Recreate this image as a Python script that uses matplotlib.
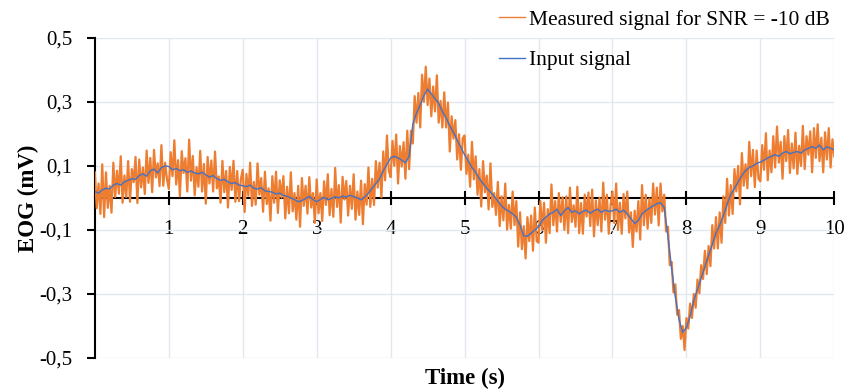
import numpy as np
import matplotlib.pyplot as plt
from matplotlib.ticker import FuncFormatter

# input EOG signal, sampled every 50 ms (mV)
input_signal = [
    0.020, 0.015, 0.025, 0.030, 0.028, 0.040, 0.045, 0.040, 0.050, 0.055,
    0.060, 0.058, 0.070, 0.075, 0.068, 0.085, 0.090, 0.078, 0.095, 0.100,
    0.098, 0.088, 0.092, 0.085, 0.088, 0.080, 0.084, 0.078, 0.075, 0.080,
    0.072, 0.065, 0.070, 0.060, 0.055, 0.058, 0.050, 0.045, 0.048, 0.040,
    0.038, 0.035, 0.040, 0.030, 0.028, 0.032, 0.022, 0.020, 0.018, 0.012,
    0.015, 0.008, 0.005, 0.000, -0.005, -0.012, -0.008, -0.002, 0.005, -0.005,
    -0.012, -0.005, 0.002, -0.006, -0.002, 0.004, 0.000, 0.006, 0.003, 0.008,
    0.004, 0.000, -0.006, 0.003, 0.015, 0.030, 0.045, 0.060, 0.085, 0.105,
    0.125, 0.130, 0.125, 0.118, 0.110, 0.130, 0.230, 0.265, 0.290, 0.320,
    0.340, 0.325, 0.310, 0.295, 0.270, 0.250, 0.225, 0.205, 0.180, 0.158,
    0.135, 0.115, 0.095, 0.080, 0.060, 0.045, 0.030, 0.018, 0.005, -0.010,
    -0.025, -0.035, -0.042, -0.050, -0.060, -0.085, -0.118, -0.120, -0.110, -0.100,
    -0.090, -0.070, -0.060, -0.050, -0.045, -0.035, -0.055, -0.040, -0.030, -0.045,
    -0.040, -0.050, -0.042, -0.038, -0.048, -0.040, -0.035, -0.045, -0.038, -0.042,
    -0.040, -0.035, -0.045, -0.038, -0.050, -0.065, -0.080, -0.070, -0.050, -0.040,
    -0.032, -0.025, -0.018, -0.015, -0.030, -0.120, -0.220, -0.310, -0.380, -0.420,
    -0.405, -0.370, -0.320, -0.285, -0.250, -0.215, -0.180, -0.145, -0.110, -0.085,
    -0.055, -0.020, 0.010, 0.030, 0.050, 0.070, 0.085, 0.095, 0.100, 0.108,
    0.112, 0.118, 0.125, 0.130, 0.135, 0.130, 0.140, 0.145, 0.138, 0.142,
    0.145, 0.140, 0.150, 0.155, 0.160, 0.155, 0.165, 0.150, 0.160, 0.155,
    0.150,
]

# noisy measurement, sampled every 25 ms (mV)
measured_signal = [
    0.080, -0.032, 0.045, -0.050, 0.105, -0.060, 0.080, -0.031, 0.038, -0.046,
    0.110, 0.003, 0.085, 0.013, 0.130, -0.015, 0.070, 0.003, 0.115, -0.012,
    0.090, 0.049, 0.128, -0.016, 0.120, 0.033, 0.095, 0.012, 0.148, 0.047,
    0.125, 0.018, 0.150, 0.064, 0.108, 0.037, 0.165, 0.038, 0.110, 0.059,
    0.028, 0.143, 0.068, 0.180, 0.042, 0.118, 0.005, 0.146, 0.078, 0.124,
    0.020, 0.182, 0.054, 0.131, 0.008, 0.096, 0.035, 0.147, 0.020, 0.106,
    -0.018, 0.128, 0.045, 0.117, 0.020, 0.145, 0.030, 0.067, -0.015, 0.116,
    0.018, 0.084, -0.030, 0.097, 0.025, 0.116, -0.012, 0.084, -0.010, 0.059,
    0.088, -0.044, 0.075, 0.007, 0.110, -0.025, 0.050, -0.021, 0.108, 0.010,
    0.062, -0.043, 0.082, -0.019, 0.030, -0.071, 0.068, -0.015, 0.082, -0.047,
    0.055, 0.001, 0.068, -0.064, 0.035, -0.048, 0.080, -0.042, 0.015, -0.068,
    0.038, -0.090, 0.062, -0.025, 0.038, -0.049, 0.065, -0.030, 0.015, -0.078,
    0.058, -0.048, 0.015, -0.072, 0.052, -0.022, 0.074, -0.054, 0.028, -0.059,
    0.094, -0.028, 0.040, -0.077, 0.066, -0.005, 0.053, -0.055, 0.038, -0.034,
    0.074, -0.068, 0.020, -0.053, 0.054, -0.082, 0.043, -0.021, 0.095, -0.028,
    0.060, -0.022, 0.115, 0.032, 0.110, 0.002, 0.145, 0.055, 0.195, 0.085,
    0.065, 0.178, 0.100, 0.198, 0.045, 0.162, 0.098, 0.174, 0.060, 0.210,
    0.090, 0.210, 0.170, 0.318, 0.235, 0.328, 0.220, 0.385, 0.300, 0.410,
    0.290, 0.373, 0.255, 0.348, 0.270, 0.383, 0.235, 0.303, 0.220, 0.330,
    0.220, 0.298, 0.145, 0.255, 0.185, 0.243, 0.120, 0.199, 0.088, 0.187,
    0.195, 0.075, 0.135, 0.035, 0.175, 0.058, 0.130, 0.010, 0.090, -0.027,
    0.115, 0.018, 0.070, -0.036, 0.108, -0.028, 0.015, -0.053, 0.050, -0.088,
    0.005, -0.070, 0.045, -0.099, -0.022, -0.096, 0.020, -0.085, -0.010, -0.152,
    -0.045, -0.160, -0.088, -0.189, -0.060, -0.135, -0.055, -0.165, -0.030, -0.135,
    -0.140, -0.010, -0.100, -0.015, -0.140, -0.035, -0.110, 0.042, -0.085, -0.010,
    -0.105, 0.015, -0.075, 0.002, -0.100, 0.005, -0.110, 0.032, -0.075, -0.023,
    -0.090, 0.035, -0.110, -0.016, -0.112, 0.010, -0.058, 0.017, -0.088, 0.026,
    -0.120, -0.008, -0.085, 0.000, -0.105, 0.048, -0.068, 0.010, -0.112, -0.021,
    0.020, -0.078, 0.045, -0.100, -0.015, -0.112, 0.012, -0.064, 0.020, -0.108,
    -0.045, -0.153, -0.040, -0.105, -0.010, -0.130, 0.040, -0.085, 0.010, -0.096,
    -0.002, -0.078, 0.045, -0.052, 0.032, -0.086, 0.045, -0.042, 0.010, -0.105,
    -0.090, -0.210, -0.200, -0.295, -0.270, -0.365, -0.350, -0.440, -0.400, -0.475,
    -0.375, -0.408, -0.330, -0.375, -0.300, -0.343, -0.255, -0.298, -0.210, -0.253,
    -0.165, -0.238, -0.150, -0.213, -0.085, -0.158, -0.060, -0.158, -0.045, -0.140,
    0.005, -0.078, 0.060, -0.055, 0.040, -0.050, 0.090, 0.020, 0.100, -0.020,
    0.140, 0.038, 0.105, 0.030, 0.175, 0.068, 0.150, 0.034, 0.148, 0.060,
    0.052, 0.165, 0.088, 0.202, 0.055, 0.148, 0.080, 0.193, 0.095, 0.223,
    0.110, 0.175, 0.060, 0.193, 0.115, 0.212, 0.078, 0.170, 0.092, 0.204,
    0.075, 0.163, 0.100, 0.225, 0.090, 0.193, 0.135, 0.208, 0.080, 0.218,
    0.125, 0.230, 0.115, 0.188, 0.080, 0.205, 0.120, 0.218, 0.095, 0.183,
    0.130,
]

t_input = np.linspace(0, 10, len(input_signal))
t_measured = np.linspace(0, 10, len(measured_signal))

plt.rcParams['font.family'] = ['Liberation Serif', 'DejaVu Serif']

fig = plt.figure(figsize=(8.47, 3.9), dpi=100)
ax = fig.add_axes([0.112, 0.082, 0.873, 0.821])

ax.plot(t_measured, measured_signal, color='#ED7D31', lw=1.6, zorder=3,
        label='Measured signal for SNR = -10 dB')
ax.plot(t_input, input_signal, color='#4472C4', lw=1.0, zorder=4,
        label='Input signal')

ax.set_xlim(0, 10)
ax.set_ylim(-0.5, 0.5)
ax.set_xticks(range(1, 11))
ax.set_yticks(np.arange(-0.5, 0.51, 0.2))
ax.yaxis.set_major_formatter(FuncFormatter(lambda v, p: f"{v:.1f}".replace('.', ',')))

ax.grid(True, color='#E3E7EF', lw=1.0)
ax.set_axisbelow(True)

for s in ['top', 'right']:
    ax.spines[s].set_visible(False)
ax.spines['bottom'].set_position(('data', 0))
ax.spines['bottom'].set_linewidth(1.5)
ax.spines['left'].set_linewidth(1.5)

ax.tick_params(axis='x', direction='inout', length=9.5, width=1.5, pad=11, labelsize=15)
ax.tick_params(axis='y', direction='out', length=6, width=1.5, pad=10, labelsize=15)

ax.set_xlabel('Time (s)', fontsize=16.5, fontweight='bold')
ax.set_ylabel('EOG (mV)', fontsize=16.5, fontweight='bold')
ax.xaxis.set_label_coords(0.5, -0.03)
ax.yaxis.set_label_coords(-0.076, 0.5)

leg = ax.legend(loc='upper left', bbox_to_anchor=(0.566, 1.025), bbox_transform=fig.transFigure,
                frameon=False, fontsize=15.5, handlelength=1.2, handletextpad=0.2,
                labelspacing=0.95)
for h in leg.legend_handles:
    h.set_linewidth(1.0)

fig.savefig('out.png', dpi=100)
